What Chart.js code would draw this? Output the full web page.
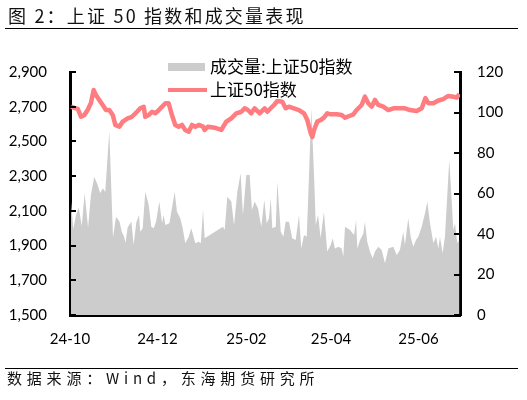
<!DOCTYPE html>
<html>
<head>
<meta charset="utf-8">
<script src="https://cdn.jsdelivr.net/npm/chart.js@4.4.1/dist/chart.umd.min.js"></script>
<style>
html,body{margin:0;padding:0;background:#fff;}
#wrap{position:relative;width:527px;height:400px;overflow:hidden;background:#fff;}
#c{position:absolute;left:0;top:0;}
#title{position:absolute;left:8px;top:2px;font-family:"Noto Sans CJK SC";font-size:18px;line-height:26px;letter-spacing:2.2px;color:#111;white-space:nowrap;}
#tline{position:absolute;left:5px;top:28px;width:513px;height:0;border-top:1.5px solid #000;}
#fline{position:absolute;left:5px;top:368px;width:513px;height:0;border-top:1.5px solid #000;}
#foot{position:absolute;left:7px;top:368px;font-family:"Noto Sans CJK SC";font-size:15px;line-height:20px;letter-spacing:4.8px;color:#111;white-space:nowrap;}
</style>
</head>
<body>
<div id="wrap">
  <canvas id="c" width="527" height="400"></canvas>
  <div id="title">图 2：上证 50 指数和成交量表现</div>
  <div id="tline"></div>
  <div id="fline"></div>
  <div id="foot">数据来源：Wind，东海期货研究所</div>
</div>
<script>
// ---- data (x = days since 2024-10-01 on the chart's date axis) ----
const tickDays   = [0, 61, 123, 182, 243];
const tickLabels = ["24-10", "24-12", "25-02", "25-04", "25-06"];

const seriesVolumeName = "成交量:上证50指数";
const seriesIndexName  = "上证50指数";

const volDays = [0.7,2.3,4.2,6.1,8.2,10.2,12.6,14.6,16.9,19.3,21.1,22.8,24.6,27.4,30.0,32.1,34.5,36.1,37.8,38.7,
  40.2,42.8,44.4,46.2,48.1,49.0,50.7,52.5,54.9,56.7,58.4,60.0,62.3,64.2,65.3,66.5,69.3,71.1,73.0,74.6,
  76.9,78.6,80.4,82.8,84.6,87.4,89.8,91.2,92.8,93.9,106.7,107.9,109.7,112.5,114.4,116.7,119.0,120.6,123.0,125.3,
  126.9,128.8,131.1,133.4,135.5,137.2,138.8,140.0,141.1,143.5,144.6,147.0,148.8,150.4,152.7,155.0,157.4,159.7,161.3,163.2,
  165.1,166.7,168.3,170.2,171.4,173.0,174.8,177.1,179.4,181.8,183.2,184.8,187.1,189.5,190.6,191.8,195.3,198.1,199.5,200.4,
  202.3,204.6,205.7,207.3,209.2,211.1,212.7,215.0,217.4,219.7,222.0,225.5,227.8,230.1,232.4,233.6,235.9,237.6,239.4,241.3,
  242.9,245.3,247.6,249.2,251.1,253.4,255.3,256.9,258.0,259.9,261.5,264.5,266.2,267.3,268.5,270.1,271.6];
const volValues = [56.0,42.5,49.4,53.1,44.0,60.1,43.2,59.3,68.3,64.2,60.1,62.6,60.9,90.9,38.3,48.5,46.2,41.1,38.5,35.6,
  43.2,46.2,34.6,45.7,49.4,41.1,42.8,60.9,54.3,43.6,42.8,46.1,56.0,45.3,49.4,44.4,45.3,52.7,60.9,51.0,
  47.8,42.8,35.4,38.7,42.8,35.4,36.2,35.4,51.9,37.9,43.6,42.0,58.4,56.0,44.4,60.9,70.0,49.4,69.1,69.1,
  51.9,56.0,52.7,43.6,56.8,45.3,47.8,57.6,42.8,43.6,65.8,41.1,38.7,46.1,46.1,37.9,37.0,49.4,32.9,39.5,
  38.7,69.1,102.1,69.1,44.4,49.4,37.9,51.0,31.3,34.6,37.9,32.9,33.7,32.9,28.8,43.6,42.0,39.5,46.9,32.9,
  37.0,40.3,46.1,36.2,31.3,28.0,31.3,33.7,32.1,25.5,32.9,33.7,29.6,32.1,41.1,34.6,47.8,38.7,33.7,37.0,
  38.7,43.6,50.2,56.0,45.3,35.4,38.7,32.9,38.7,30.5,38.7,76.5,56.8,42.0,45.3,35.4,37.0];

const idxDays = [0.7,3.0,5.4,7.7,10.0,12.3,14.6,16.5,18.1,20.4,22.8,25.1,27.4,29.8,31.6,34.4,36.8,40.2,43.2,46.7,
  49.0,51.4,52.5,54.9,57.2,59.5,61.9,64.2,66.5,68.8,71.1,73.4,75.8,78.1,80.4,82.8,85.1,87.4,89.8,92.8,
  93.9,96.2,100.9,105.5,109.0,112.5,116.0,119.5,121.8,124.1,126.4,128.8,132.3,135.8,137.6,140.0,142.3,144.6,148.1,150.4,
  152.7,156.2,159.7,163.2,165.5,167.9,169.0,170.2,172.5,174.8,177.1,179.4,181.8,186.0,189.5,191.8,195.3,197.6,199.9,203.4,
  205.7,208.0,210.4,212.7,215.0,218.5,222.0,225.5,228.7,233.6,237.1,241.8,245.3,247.9,249.9,253.4,256.9,260.3,263.8,267.3,
  269.7,271.6];
const idxValues = [2700,2693,2687,2642,2652,2681,2721,2796,2767,2739,2710,2681,2681,2652,2595,2585,2614,2633,2642,2671,
  2691,2700,2642,2652,2671,2662,2681,2700,2720,2720,2652,2595,2585,2595,2566,2556,2595,2585,2595,2585,
  2566,2585,2579,2566,2614,2633,2662,2671,2691,2681,2662,2691,2662,2691,2671,2691,2710,2733,2729,2691,
  2700,2691,2681,2662,2623,2547,2526,2566,2614,2623,2637,2662,2656,2656,2652,2637,2648,2656,2681,2710,
  2758,2720,2700,2739,2710,2700,2681,2691,2691,2691,2681,2675,2691,2750,2720,2720,2736,2744,2762,2758,
  2753,2773];

const leftTicks  = {min:1500, max:2900, step:200};
const rightTicks = {min:0, max:120, step:20};

const lineColor = "#ff7c80";
const areaColor = "#cccccc";
const tickFont = {family:"Lato", size:15};
const cjkFont = '"Noto Sans CJK SC"';

const volPoints = volDays.map((d,i)=>({x:d, y:volValues[i]}));
const idxPoints = idxDays.map((d,i)=>({x:d, y:idxValues[i]}));

const inwardTicks = {
  id:'inwardTicks',
  afterDraw(chart){
    const ctx = chart.ctx, a = chart.chartArea;
    ctx.save();
    ctx.strokeStyle = '#000';
    ctx.lineWidth = 2;
    ['y','y1'].forEach(id=>{
      const s = chart.scales[id];
      s.ticks.forEach(t=>{
        const py = Math.round(s.getPixelForValue(t.value));
        ctx.beginPath();
        if (id === 'y') { ctx.moveTo(a.left, py); ctx.lineTo(a.left + 6, py); }
        else { ctx.moveTo(a.right, py); ctx.lineTo(a.right - 6, py); }
        ctx.stroke();
      });
    });
    ctx.restore();
  }
};

const innerLegend = {
  id:'innerLegend',
  afterDraw(chart){
    const ctx = chart.ctx;
    const ds = chart.data.datasets;
    ctx.save();
    ctx.font = '17px ' + cjkFont;
    ctx.textBaseline = 'middle';
    ctx.fillStyle = '#000';
    const x0 = 168, tx = 210;
    const rows = [67, 90];
    ds.forEach((d,i)=>{
      const y = rows[i];
      if (d.fill) {
        ctx.fillStyle = d.backgroundColor;
        ctx.fillRect(x0, y - 4, 37, 8);
      } else {
        ctx.strokeStyle = d.borderColor;
        ctx.lineWidth = 4;
        ctx.beginPath(); ctx.moveTo(x0, y); ctx.lineTo(x0 + 39, y); ctx.stroke();
      }
      ctx.fillStyle = '#000';
      ctx.fillText(d.label, tx, y);
    });
    ctx.restore();
  }
};

new Chart(document.getElementById('c'), {
  type: 'line',
  data: {
    datasets: [
      {label: seriesVolumeName, data: volPoints, yAxisID: 'y1', fill: 'origin',
       backgroundColor: areaColor, borderColor: 'rgba(0,0,0,0)', borderWidth: 0,
       pointRadius: 0, tension: 0, order: 2},
      {label: seriesIndexName, data: idxPoints, yAxisID: 'y', fill: false,
       borderColor: lineColor, backgroundColor: lineColor, borderWidth: 4.5,
       pointRadius: 0, tension: 0, order: 1, borderJoinStyle: 'round'}
    ]
  },
  options: {
    responsive: false,
    devicePixelRatio: 1,
    animation: false,
    layout: {padding: {top: 72, left: 0, right: 0, bottom: 0}},
    plugins: {legend: {display: false}, tooltip: {enabled: false}},
    scales: {
      x: {
        type: 'linear', min: tickDays[0], max: 272,
        grid: {display: false, drawTicks: false},
        border: {display: true, color: '#000', width: 3},
        afterBuildTicks: s => { s.ticks = tickDays.map(v => ({value: v})); },
        afterFit: s => { s.height = 85; },
        ticks: {autoSkip: false, maxRotation: 0, padding: 15, color: '#000', font: tickFont,
                callback: (v, i) => tickLabels[i]}
      },
      y: {
        position: 'left', min: leftTicks.min, max: leftTicks.max,
        grid: {display: false, drawTicks: false},
        border: {display: true, color: '#000', width: 3},
        afterFit: s => { s.width = 70; },
        ticks: {stepSize: leftTicks.step, padding: 23, color: '#000', font: tickFont,
                callback: v => v.toLocaleString('en-US')}
      },
      y1: {
        position: 'right', min: rightTicks.min, max: rightTicks.max,
        grid: {display: false, drawTicks: false},
        border: {display: true, color: '#000', width: 3},
        afterFit: s => { s.width = 67; },
        ticks: {stepSize: rightTicks.step, padding: 17, color: '#000', font: tickFont}
      }
    }
  },
  plugins: [inwardTicks, innerLegend]
});
</script>
</body>
</html>
